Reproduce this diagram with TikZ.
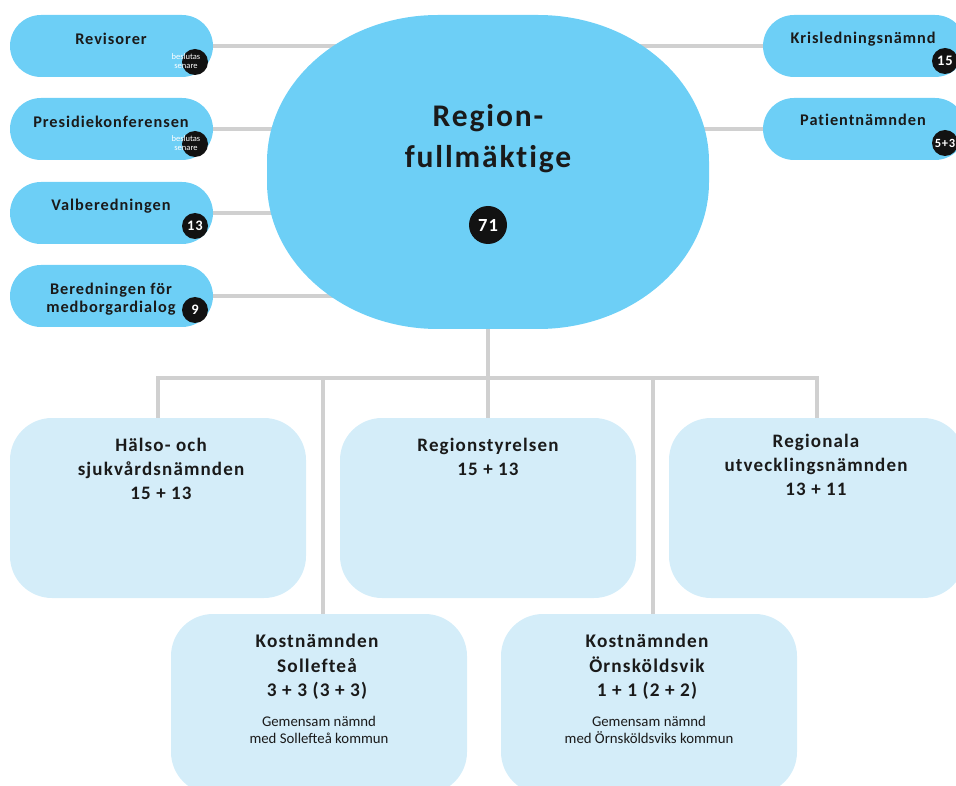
\documentclass[tikz,border=0pt]{standalone}
\usepackage{fontspec}
\setmainfont{Carlito}
\newfontfamily\hfont[LetterSpace=6,Ligatures=NoCommon]{Carlito}
\usetikzlibrary{shapes.geometric,backgrounds}
\definecolor{pillblue}{HTML}{6DCFF6}
\definecolor{boxblue}{HTML}{D4EDF9}
\definecolor{linegray}{HTML}{D0D0D0}
\definecolor{badgeblack}{HTML}{121212}
\definecolor{ink}{HTML}{1A1A1A}
\tikzset{
 pill/.style={fill=pillblue, rounded corners=31pt, minimum width=203pt, minimum height=62pt, inner sep=0pt},
 bigbox/.style={fill=boxblue, rounded corners=42pt, minimum width=296pt, minimum height=180pt, inner sep=0pt},
 conn/.style={draw=linegray, line width=4pt},
 badgec/.style={circle, fill=badgeblack, text=white, minimum size=26pt, inner sep=0pt, font=\hfont\bfseries\fontsize{14.5}{14.5}\selectfont},
 ptitle/.style={font=\hfont\bfseries\fontsize{16.3}{18}\selectfont, align=center, text=ink, inner sep=0pt},
 btitle/.style={font=\hfont\bfseries\fontsize{19}{24}\selectfont, align=center, text=ink, inner sep=0pt},
 ktitle/.style={font=\hfont\bfseries\fontsize{19.3}{24.5}\selectfont, align=center, text=ink, inner sep=0pt},
 smalltxt/.style={font=\fontsize{14.8}{17}\selectfont, align=center, text=ink, inner sep=0pt},
 tinytxt/.style={font=\fontsize{8.5}{9}\selectfont, align=center, text=white, inner sep=0pt},
}
\begin{document}
\begin{tikzpicture}[x=1pt,y=-1pt]
\useasboundingbox (0,0) rectangle (956,786);
\clip (0,0) rectangle (956,786);
% central rounded oval
\node[minimum width=442pt, minimum height=314pt, inner sep=0pt] (rf) at (488,172) {};
\fill[pillblue] (438,15) -- (538,15) .. controls (632,15) and (709,81) .. (709,162)
  -- (709,182) .. controls (709,263) and (632,329) .. (538,329)
  -- (438,329) .. controls (344,329) and (267,263) .. (267,182)
  -- (267,162) .. controls (267,81) and (344,15) .. (438,15) -- cycle;
\node[font=\hfont\bfseries\fontsize{31.5}{41}\selectfont, align=center, text=ink, inner sep=0pt] (rft) at (488,139) {Region-\\fullmäktige};
\node[badgec, minimum size=38pt, font=\hfont\bfseries\fontsize{18.5}{18.5}\selectfont] (rfb) at (488,225) {71};
% left pills
\node[pill] (rev) at (111.5,46) {};
\node[ptitle] (revt) at (111,39) {Revisorer};
\node[badgec] (revb) at (195,62) {};
\node[tinytxt] (revs) at (186,61) {beslutas\\senare};
\node[pill] (pre) at (111.5,129) {};
\node[ptitle] (pret) at (111,122) {Presidiekonferensen};
\node[badgec] (preb) at (195,144) {};
\node[tinytxt] (pres) at (186,143) {beslutas\\senare};
\node[pill] (val) at (111.5,213) {};
\node[ptitle] (valt) at (111,206) {Valberedningen};
\node[badgec] (valb) at (195,226) {13};
\node[pill] (ber) at (111.5,296) {};
\node[ptitle] (bert) at (111,299) {Beredningen för\\medborgardialog};
\node[badgec] (berb) at (195,310) {9};
% right pills
\node[pill] (kri) at (864.5,46) {};
\node[ptitle] (krit) at (863,39) {Krisledningsnämnd};
\node[badgec] (krib) at (945,61) {15};
\node[pill] (pat) at (864.5,129) {};
\node[ptitle] (patt) at (863,120) {Patientnämnden};
\node[badgec, font=\hfont\bfseries\fontsize{12.5}{12.5}\selectfont] (patb) at (945,143) {5+3};
% boxes
\node[bigbox] (hs) at (158,508) {};
\node[btitle, anchor=north] (hst) at (161,438) {Hälso- och\\sjukvårdsnämnden\\15 + 13};
\node[bigbox] (rs) at (488,508) {};
\node[btitle, anchor=north] (rst) at (488,438) {Regionstyrelsen\\15 + 13};
\node[bigbox] (ru) at (817,508) {};
\node[btitle, anchor=north] (rut) at (816,434) {Regionala\\utvecklingsnämnden\\13 + 11};
\node[bigbox] (ks) at (319,704) {};
\node[ktitle, anchor=north] (kst) at (317,634) {Kostnämnden\\Sollefteå\\3 + 3 (3 + 3)};
\node[smalltxt, anchor=north] (kss) at (319,716) {Gemensam nämnd\\med Sollefteå kommun};
\node[bigbox] (ko) at (649,704) {};
\node[ktitle, anchor=north] (kot) at (647,634) {Kostnämnden\\Örnsköldsvik\\1 + 1 (2 + 2)};
\node[smalltxt, anchor=north] (kos) at (649,716) {Gemensam nämnd\\med Örnsköldsviks kommun};
% connectors
\begin{scope}[on background layer]
\draw[conn] (rev.east) -- (rev.east -| rf.center);
\draw[conn] (pre.east) -- (pre.east -| rf.center);
\draw[conn] (val.east) -- (val.east -| rf.center);
\draw[conn] (ber.east) -- (ber.east -| rf.center);
\draw[conn] (kri.west) -- (kri.west -| rf.center);
\draw[conn] (pat.west) -- (pat.west -| rf.center);
\coordinate (bus) at (488,378);
\coordinate (j1) at (323,378);
\coordinate (j2) at (653,378);
\draw[conn] (rf.south) -- (bus);
\draw[conn] (hs.north) -- (hs.north |- bus) -- (ru.north |- bus) -- (ru.north);
\draw[conn] (bus) -- (rs.north);
\draw[conn] (j1) -- (j1 |- ks.north);
\draw[conn] (j2) -- (j2 |- ko.north);
\end{scope}
\end{tikzpicture}
\end{document}
